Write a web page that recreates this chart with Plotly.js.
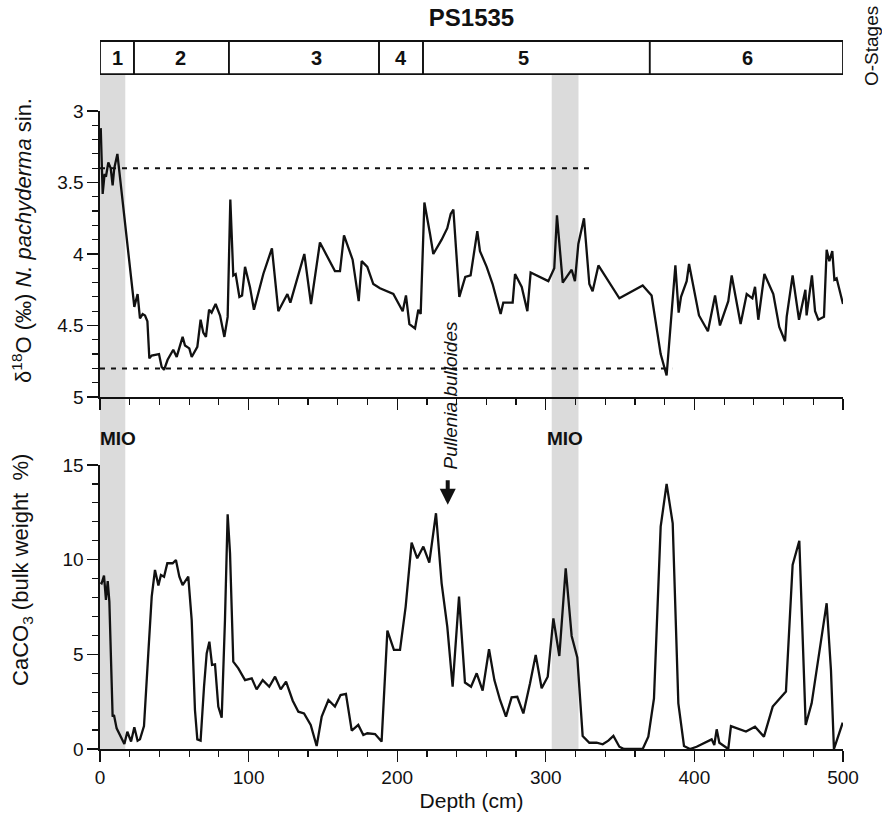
<!DOCTYPE html>
<html>
<head>
<meta charset="utf-8">
<script src="https://cdn.plot.ly/plotly-3.0.1.min.js"></script>
<style>html,body{margin:0;padding:0;background:#fff;}#chart{width:882px;height:821px;}</style>
</head>
<body>
<div id="chart"></div>
<script>
// ---- data ----
const o18Depth = [0.5,1.8,3.1,4.0,5.6,7.2,8.5,9.6,11.7,23.1,25.3,26.9,28.7,30.3,31.9,33.2,34.8,39.7,41.5,43.1,45.5,49.3,51.6,53.4,55.6,57.2,60.1,61.7,65.5,67.7,69.5,71.3,73.4,75.1,77.8,80.8,83.7,85.9,87.7,89.7,91.3,93.8,95.6,97.6,100.9,103.6,109.9,115.7,120.0,126.1,128.1,137.5,142.0,148.0,158.1,161.5,164.2,170.0,174.1,176.1,179.9,183.9,188.4,197.4,203.7,205.9,208.2,212.0,214.2,215.8,218.3,222.1,224.3,229.9,233.7,236.0,237.8,241.8,245.8,249.4,253.9,255.7,260.2,264.2,269.6,271.4,277.7,279.3,283.8,287.6,289.8,301.7,305.7,307.5,311.4,317.4,319.6,321.9,325.7,329.3,331.5,335.4,349.5,365.2,371.2,377.3,381.3,387.2,389.4,391.0,394.8,396.4,403.1,409.1,413.9,417.2,422.8,425.1,431.1,435.2,439.0,440.8,443.0,447.1,453.1,457.1,461.0,462.1,466.1,470.4,474.7,475.5,479.1,481.2,483.4,487.2,489.0,490.8,492.8,494.2,495.7,500.0];
const o18Value = [3.12,3.58,3.44,3.46,3.36,3.40,3.52,3.40,3.30,4.37,4.28,4.45,4.42,4.43,4.47,4.73,4.71,4.70,4.79,4.81,4.74,4.67,4.72,4.66,4.58,4.64,4.66,4.72,4.65,4.46,4.55,4.58,4.39,4.41,4.35,4.43,4.58,4.44,3.62,4.15,4.14,4.30,4.29,4.09,4.23,4.39,4.14,3.96,4.40,4.28,4.34,4.00,4.35,3.92,4.12,4.12,3.87,4.04,4.33,4.05,4.09,4.21,4.24,4.28,4.40,4.29,4.49,4.52,4.39,4.42,3.64,3.86,4.00,3.90,3.82,3.72,3.69,4.30,4.16,4.15,3.84,3.98,4.09,4.21,4.42,4.34,4.34,4.14,4.23,4.40,4.13,4.19,4.10,3.73,4.20,4.11,4.19,3.93,3.75,4.21,4.26,4.08,4.31,4.22,4.29,4.70,4.85,4.08,4.41,4.30,4.19,4.07,4.43,4.54,4.29,4.50,4.33,4.15,4.49,4.28,4.31,4.23,4.46,4.14,4.28,4.51,4.61,4.44,4.15,4.46,4.25,4.43,4.15,4.40,4.46,4.44,3.97,4.05,3.98,4.18,4.17,4.35];

const caDepth = [0.3,1.1,2.7,4.0,5.2,6.3,8.5,9.4,11.2,13.5,16.4,18.4,20.9,23.1,25.3,26.9,29.6,32.5,34.8,37.0,39.3,41.0,43.1,45.3,48.9,51.1,53.4,55.6,59.4,61.7,63.9,65.5,67.7,70.0,71.8,73.6,75.4,77.4,79.6,81.9,84.1,85.9,87.5,89.7,93.1,97.6,102.1,105.4,109.5,113.9,117.8,121.6,125.2,129.7,133.5,137.3,141.8,145.8,149.2,153.7,158.1,161.9,165.5,169.4,173.8,177.2,179.9,185.1,189.5,193.4,197.8,201.9,205.7,209.7,213.5,217.6,221.6,226.1,229.9,233.7,237.3,241.6,245.6,249.7,253.5,257.5,261.8,265.4,269.2,273.2,277.0,280.8,284.9,289.4,293.2,297.2,301.3,305.1,309.1,313.4,317.4,321.2,324.8,329.3,334.2,338.3,342.1,345.5,349.5,352.6,365.2,369.0,372.8,377.3,381.3,385.4,389.2,393.0,397.0,401.5,411.6,413.4,415.0,416.8,422.8,424.6,434.7,440.8,446.8,452.7,461.6,466.1,470.6,474.9,478.9,489.0,491.9,493.9,499.8];
const caValue = [8.8,8.75,9.16,7.87,8.87,7.78,1.71,1.80,1.09,0.74,0.26,0.91,0.39,1.15,0.44,0.51,1.21,5.05,8.05,9.46,8.63,9.19,9.10,9.81,9.81,9.98,9.10,8.66,9.10,6.81,2.06,0.51,0.44,3.29,5.05,5.67,4.44,4.47,2.24,1.65,6.81,12.40,10.34,4.61,4.26,3.64,3.73,3.15,3.64,3.29,3.82,3.15,3.56,2.55,1.97,1.88,1.27,0.16,1.71,2.59,2.24,2.85,2.91,0.97,1.27,0.74,0.83,0.79,0.39,6.25,5.23,5.23,7.52,10.90,10.07,10.69,9.84,12.45,8.75,6.46,3.29,8.05,3.51,3.29,4.00,3.08,5.27,3.64,2.59,1.71,2.73,2.76,1.88,3.47,4.97,3.21,3.82,6.90,4.91,9.54,5.97,4.84,0.69,0.33,0.33,0.25,0.44,0.69,0.12,0,0,0.65,2.67,11.74,14.0,11.92,2.41,0.16,0,0.12,0.51,0.21,1.04,0.33,0,1.21,0.92,1.18,0.65,2.24,3.03,9.72,11.0,1.27,2.41,7.70,4.17,0,1.39];

// dashed reference levels in the upper panel
const refLevels = [3.4, 4.8];
const refEnds = [330, 385];

// O-stage boundaries (cm) and labels
const stageBounds = [0, 22.9, 86.8, 187.8, 217.4, 370, 500];
const stageLabels = ['1','2','3','4','5','6'];
const stageLabelPos = [11.5, 54.5, 145.4, 202.5, 284.7, 436];

// MIO shaded intervals (cm)
const mioStart = [0, 304];
const mioEnd = [17, 322];
const mioLabelPos = [12, 313];

// Pullenia bulloides marker depth
const pulleniaDepth = 234;

// ---- build chart ----
const FONT = 'Liberation Sans, Arial, Helvetica, sans-serif';
const traces = [];
traces.push({x: o18Depth, y: o18Value, xaxis: 'x2', yaxis: 'y2', mode: 'lines',
  line: {color: '#111', width: 2.3}, hoverinfo: 'skip', showlegend: false});
refLevels.forEach((lv, i) => {
  traces.push({x: [0, refEnds[i]], y: [lv, lv], xaxis: 'x2', yaxis: 'y2', mode: 'lines',
    line: {color: '#111', width: 2, dash: '5px,6px'}, hoverinfo: 'skip', showlegend: false});
});
traces.push({x: caDepth, y: caValue, xaxis: 'x', yaxis: 'y', mode: 'lines',
  line: {color: '#111', width: 2.3}, hoverinfo: 'skip', showlegend: false});

const barTop = 0.9986, barBot = 0.952;
const shapes = [];
mioStart.forEach((s, i) => {
  shapes.push({type: 'rect', xref: 'x', yref: 'paper', x0: s, x1: mioEnd[i], y0: 0, y1: barBot,
    fillcolor: 'rgba(170,170,170,0.42)', line: {width: 0}, layer: 'below'});
});
for (let i = 0; i < stageLabels.length; i++) {
  shapes.push({type: 'rect', xref: 'x', yref: 'paper', x0: stageBounds[i], x1: stageBounds[i+1],
    y0: barBot, y1: barTop, fillcolor: 'white', line: {color: '#111', width: 1.8}});
}

const annotations = [];
stageLabels.forEach((t, i) => {
  annotations.push({text: '<b>' + t + '</b>', xref: 'x', yref: 'paper', x: stageLabelPos[i], y: (barTop + barBot) / 2,
    showarrow: false, font: {family: FONT, size: 20, color: '#111'}, xanchor: 'center', yanchor: 'middle'});
});
mioLabelPos.forEach(p => {
  annotations.push({text: '<b>MIO</b>', xref: 'x', yref: 'paper', x: p, y: 0.4386,
    showarrow: false, font: {family: FONT, size: 19, color: '#111'}, xanchor: 'center', yanchor: 'middle'});
});
annotations.push({text: '<i>Pullenia bulloides</i>', xref: 'x', yref: 'paper', x: pulleniaDepth + 2.5, y: 0.4993,
  textangle: -90, showarrow: false, font: {family: FONT, size: 19, color: '#111'}, xanchor: 'center', yanchor: 'middle'});
annotations.push({text: '', xref: 'x', yref: 'y', x: pulleniaDepth, y: 12.9, ax: 0, ay: -26,
  showarrow: true, arrowhead: 2, arrowwidth: 4, arrowsize: 0.8, arrowcolor: '#111'});
annotations.push({text: 'O-Stages', xref: 'paper', yref: 'paper', x: 1.0377, y: 0.9915, textangle: -90,
  showarrow: false, font: {family: FONT, size: 19, color: '#111'}, xanchor: 'center', yanchor: 'middle'});
annotations.push({text: 'δ<sup>18</sup>O (‰) <i>N. pachyderma</i> sin.', xref: 'paper', yref: 'paper', x: -0.105, y: 0.718,
  textangle: -90, showarrow: false, font: {family: FONT, size: 22, color: '#111'}, xanchor: 'center', yanchor: 'middle'});
annotations.push({text: 'CaCO<sub>3</sub> (bulk weight \u00a0%)', xref: 'paper', yref: 'paper', x: -0.105, y: 0.2525,
  textangle: -90, showarrow: false, font: {family: FONT, size: 22, color: '#111'}, xanchor: 'center', yanchor: 'middle'});

const axCommon = {showline: true, linecolor: '#111', linewidth: 1.6, showgrid: false, zeroline: false,
  ticks: 'outside', tickcolor: '#111', tickwidth: 1.4, ticklen: 11,
  tickfont: {family: FONT, size: 19, color: '#111'}, fixedrange: true};

const layout = {
  width: 882, height: 821,
  margin: {l: 100, r: 39, t: 40, b: 72},
  paper_bgcolor: 'white', plot_bgcolor: 'rgba(0,0,0,0)',
  font: {family: FONT, color: '#111'},
  title: {text: '<b>PS1535</b>', xref: 'paper', x: 0.5, xanchor: 'center', yref: 'container', y: 1 - 18/821, yanchor: 'middle',
    font: {family: FONT, size: 24, color: '#111'}},
  xaxis: Object.assign({}, axCommon, {domain: [0, 1], range: [0, 500], anchor: 'y', dtick: 100,
    minor: {dtick: 20, ticks: 'outside', ticklen: 6, tickcolor: '#111', tickwidth: 1.2},
    title: {text: 'Depth (cm)', font: {family: FONT, size: 21, color: '#111'}, standoff: 6}}),
  xaxis2: Object.assign({}, axCommon, {domain: [0, 1], range: [0, 500], anchor: 'y2', dtick: 100, showticklabels: false,
    minor: {dtick: 20, ticks: 'outside', ticklen: 6, tickcolor: '#111', tickwidth: 1.2}}),
  yaxis: Object.assign({}, axCommon, {domain: [0, 0.4006], range: [0, 15], anchor: 'x', dtick: 5,
    minor: {dtick: 1, ticks: 'outside', ticklen: 6, tickcolor: '#111', tickwidth: 1.2}}),
  yaxis2: Object.assign({}, axCommon, {domain: [0.4965, 0.8999], range: [5, 3], anchor: 'x2', dtick: 0.5,
    minor: {dtick: 0.1, ticks: 'outside', ticklen: 6, tickcolor: '#111', tickwidth: 1.2}}),
  shapes: shapes,
  annotations: annotations
};

Plotly.newPlot('chart', traces, layout, {staticPlot: true, displayModeBar: false});
</script>
</body>
</html>
